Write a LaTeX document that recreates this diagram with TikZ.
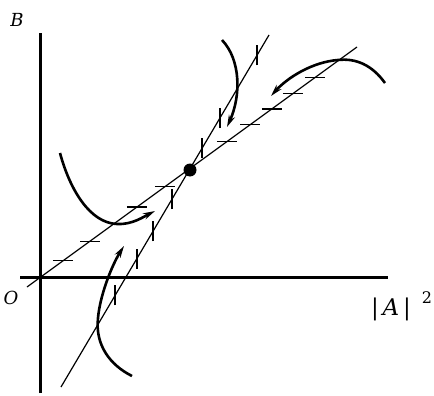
\documentclass[tikz,border=0pt]{standalone}
\usepackage{fontspec}
\setmainfont{DejaVu Serif}
\usetikzlibrary{calc,arrows.meta}
\begin{document}
\begin{tikzpicture}[x=1pt,y=-1pt,
  axisline/.style={line width=3pt},
  nullcline/.style={line width=1.2pt},
  tickmark/.style={line width=1.2pt},
  flowcurve/.style={line width=2.6pt,-{Stealth[length=12pt,width=6.5pt]}},
  lbl/.style={font=\fontsize{18}{20}\selectfont\itshape,inner sep=0pt}]
\useasboundingbox (0,0) rectangle (434,396);
% axes
\coordinate (yb) at (40,393); \coordinate (yt) at (40,33);
\coordinate (xl) at (20,277); \coordinate (xr) at (388,277);
\draw[axisline] (yb) -- (yt);
\draw[axisline] (xl) -- (xr);
% labels
\node[lbl] (lB) at (17,20) {B};
\node[lbl] (lO) at (11,298) {O};
\node[lbl] (lA) at (391,309) {\fontsize{23}{25}\selectfont\upshape|\,\itshape A\,\upshape|};
\node[lbl,font=\fontsize{16}{18}\selectfont] (l2) at (427,298) {2};
% nullclines
\coordinate (S1) at (27,287); \coordinate (S2) at (357,47);
\coordinate (T1) at (61,387); \coordinate (T2) at (269,35);
\draw[nullcline] (S1) -- (S2);
\draw[nullcline] (T1) -- (T2);
% horizontal ticks on shallow line
\foreach \t [count=\i] in {0.109,0.191,0.333,0.418,0.606,0.676,0.742,0.806,0.873}{
  \coordinate (h\i) at ($(S1)!\t!(S2)$);
  \draw[tickmark] ([xshift=-10pt]h\i) -- ([xshift=10pt]h\i);
}
% vertical ticks on steep line
\foreach \t [count=\i] in {0.26,0.365,0.442,0.534,0.678,0.764,0.942}{
  \coordinate (v\i) at ($(T1)!\t!(T2)$);
  \draw[tickmark] ([yshift=-10pt]v\i) -- ([yshift=10pt]v\i);
}
% fixed point
\node[circle,fill=black,inner sep=0pt,minimum size=13pt] (fp) at (190,170) {};
% flow curves
\coordinate (c1s) at (222,40); \coordinate (c1e) at (227,127);
\draw[flowcurve] (c1s) .. controls (241,60) and (241,96) .. (c1e);
\coordinate (c2s) at (385,83); \coordinate (c2m) at (338,60); \coordinate (c2e) at (271,96);
\draw[flowcurve] (c2s) .. controls (372,65) and (356,58) .. (c2m) .. controls (312,62) and (287,78) .. (c2e);
\coordinate (c3s) at (60,153); \coordinate (c3m) at (117,224); \coordinate (c3e) at (155,211);
\draw[flowcurve] (c3s) .. controls (70,190) and (90,223) .. (c3m) .. controls (132,225) and (145,216) .. (c3e);
\coordinate (c4s) at (132,376); \coordinate (c4m) at (98,318); \coordinate (c4e) at (124,246);
\draw[flowcurve] (c4s) .. controls (110,365) and (95,345) .. (c4m) .. controls (100,295) and (112,265) .. (c4e);
\end{tikzpicture}
\end{document}
